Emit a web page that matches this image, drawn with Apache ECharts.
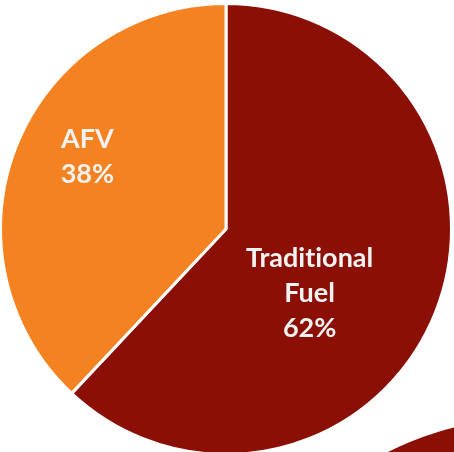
<!DOCTYPE html>
<html>
<head>
<meta charset="utf-8">
<script src="https://cdn.jsdelivr.net/npm/echarts@6/dist/echarts.min.js"></script>
<style>
html,body{margin:0;padding:0;background:#fff;}
#chart{width:454px;height:452px;}
</style>
</head>
<body>
<div id="chart"></div>
<script>
const categories = ['Traditional Fuel', 'AFV'];
const values = [62, 38];
const colors = ['#8B0F04', '#F58220'];
const nextChartValues = [1];

const chart = echarts.init(document.getElementById('chart'), null, {renderer: 'canvas'});
const labelShift = [[-24, 22], [-31, -30]];
chart.setOption({
  animation: false,
  series: [
    {
      type: 'pie',
      silent: true,
      center: [531, 736],
      radius: 318,
      label: {show: false},
      labelLine: {show: false},
      itemStyle: {color: colors[0]},
      data: nextChartValues.map(v => ({value: v}))
    },
    {
      type: 'pie',
      center: [226, 229],
      radius: 225.5,
      startAngle: 90,
      clockwise: true,
      itemStyle: {borderColor: '#ffffff', borderWidth: 3},
      label: {
        show: true,
        position: 'inside',
        color: '#F2F2F2',
        fontFamily: 'Lato',
        fontWeight: 'bold',
        fontSize: 27,
        lineHeight: 35,
        align: 'center',
        formatter: p => p.name.replace(' ', '\n').replace(/ti/g, 't\u200Ci') + '\n' + p.value + '%'
      },
      labelLine: {show: false},
      labelLayout: p => ({dx: labelShift[p.dataIndex][0], dy: labelShift[p.dataIndex][1]}),
      data: categories.map((c, i) => ({name: c, value: values[i], itemStyle: {color: colors[i]}}))
    }
  ]
});
</script>
</body>
</html>
